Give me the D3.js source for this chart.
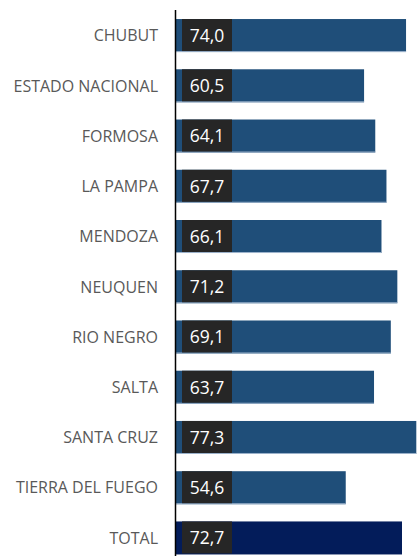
<!DOCTYPE html>
<html>
<head>
<meta charset="utf-8">
<script src="https://cdn.jsdelivr.net/npm/d3@7"></script>
<style>
  body { margin: 0; background: #fff; }
  svg { display: block; }
</style>
</head>
<body>
<svg id="canvas"></svg>
<script>
let categories = [
  "CHUBUT", "ESTADO NACIONAL", "FORMOSA", "LA PAMPA", "MENDOZA",
  "NEUQUEN", "RIO NEGRO", "SALTA", "SANTA CRUZ", "TIERRA DEL FUEGO", "TOTAL"
];
let values = [74.0, 60.5, 64.1, 67.7, 66.1, 71.2, 69.1, 63.7, 77.3, 54.6, 72.7];

let width = 417,
  height = 556;

let canvas = d3.select("#canvas").attr("width", width).attr("height", height);

let xScale = d3.scaleLinear().domain([0, 77.3]).range([176, 416.3]);

let yScale = d3
  .scaleBand()
  .domain(categories)
  .range([10.5, 563])
  .paddingInner(0.343)
  .paddingOuter(0.17);

let fmt = (v) => d3.format(".1f")(v).replace(".", ",");

// bars
canvas
  .selectAll("rect.bar")
  .data(categories)
  .enter()
  .append("rect")
  .attr("class", "bar")
  .attr("x", xScale(0))
  .attr("y", (d) => yScale(d))
  .attr("width", (d, i) => xScale(values[i]) - xScale(0))
  .attr("height", yScale.bandwidth())
  .attr("fill", (d) => (d == "TOTAL" ? "#031c5a" : "#1f4e79"));

// thin light edge under the bars
canvas
  .selectAll("line.edge")
  .data(categories.filter((d) => d != "TOTAL"))
  .enter()
  .append("line")
  .attr("x1", xScale(0))
  .attr("x2", (d) => xScale(values[categories.indexOf(d)]))
  .attr("y1", (d) => yScale(d) + yScale.bandwidth() - 0.5)
  .attr("y2", (d) => yScale(d) + yScale.bandwidth() - 0.5)
  .attr("stroke", "#9db3cc")
  .attr("stroke-width", 1);

// dark value boxes
canvas
  .selectAll("rect.box")
  .data(categories)
  .enter()
  .append("rect")
  .attr("x", 182)
  .attr("y", (d) => yScale(d))
  .attr("width", 50)
  .attr("height", yScale.bandwidth() - 1)
  .attr("fill", "#262626");

canvas
  .selectAll("text.val")
  .data(categories)
  .enter()
  .append("text")
  .attr("x", 207)
  .attr("y", (d) => yScale(d) + yScale.bandwidth() / 2)
  .attr("dy", "0.36em")
  .attr("text-anchor", "middle")
  .attr("fill", "#ffffff")
  .style("font-family", "'Open Sans', sans-serif")
  .style("font-size", "17.5px")
  .text((d, i) => fmt(values[i]));

// category labels
canvas
  .selectAll("text.cat")
  .data(categories)
  .enter()
  .append("text")
  .attr("x", 158)
  .attr("y", (d) => yScale(d) + yScale.bandwidth() / 2)
  .attr("dy", "0.36em")
  .attr("text-anchor", "end")
  .attr("fill", "#595959")
  .style("font-family", "'Open Sans', sans-serif")
  .style("font-size", "16px")
  .text((d) => d);

// axis line
canvas
  .append("line")
  .attr("x1", 175.5)
  .attr("x2", 175.5)
  .attr("y1", 10)
  .attr("y2", height)
  .attr("stroke", "#000")
  .attr("stroke-width", 1.5);
</script>
</body>
</html>
